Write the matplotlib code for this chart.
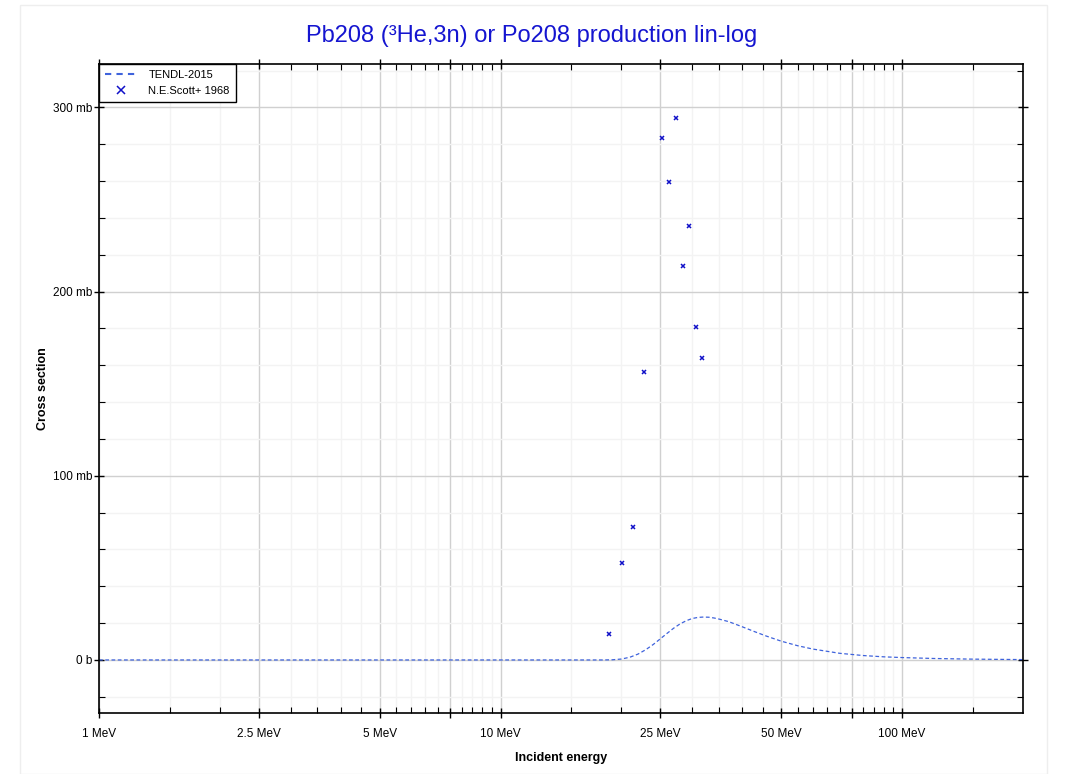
import matplotlib
matplotlib.use("Agg")
import matplotlib.pyplot as plt
from matplotlib.ticker import FixedLocator, FuncFormatter
from matplotlib.patches import Rectangle
from matplotlib.lines import Line2D

plt.rcParams['font.family'] = ['Liberation Sans', 'DejaVu Sans']

# TENDL-2015 evaluation (MeV, mb)
tendl_e = [1, 18, 19, 20, 21, 22, 23, 24, 25, 26, 27, 28, 29, 30, 31, 32, 33, 34, 35,
           37, 40, 43, 46, 50, 55, 60, 70, 80, 90, 100, 120, 150, 200]
tendl_xs = [0, 0, 0.1, 0.5, 1.5, 3.2, 5.6, 8.4, 11.5, 14.5, 17.3, 19.6, 21.3, 22.5, 23.1,
            23.3, 23.2, 22.8, 22.2, 20.8, 18.0, 15.3, 12.9, 10.2, 7.7, 5.9, 3.6, 2.4, 1.7,
            1.3, 0.8, 0.45, 0.2]

# N.E.Scott+ 1968 measurements (MeV, mb)
scott_e = [18.6, 20.1, 21.4, 22.7, 25.2, 26.3, 27.4, 28.5, 29.5, 30.6, 31.7]
scott_xs = [14.1, 52.6, 72.1, 156.5, 283.5, 259.6, 294.4, 214.0, 235.5, 181.0, 164.0]

x_major = [1, 2.5, 5, 7.5, 10, 25, 50, 75, 100]
x_labels = {1: "1 MeV", 2.5: "2.5 MeV", 5: "5 MeV", 10: "10 MeV",
            25: "25 MeV", 50: "50 MeV", 100: "100 MeV"}
x_minor = [1.5, 2, 3, 3.5, 4, 4.5, 5.5, 6, 6.5, 7, 8, 8.5, 9, 9.5,
           15, 20, 30, 35, 40, 45, 55, 60, 65, 70, 80, 85, 90, 95, 150]
y_major = [0, 100, 200, 300]
y_labels = ["0 b", "100 mb", "200 mb", "300 mb"]

fig = plt.figure(figsize=(10.71, 7.74), dpi=100)
fig.patches.append(Rectangle((20/1071, 0), (1047-20)/1071, (774-5)/774,
                             transform=fig.transFigure, fill=False,
                             edgecolor='#eeeeee', lw=1))
ax = fig.add_axes([99/1071, 61/774, (1023-99)/1071, (713-64)/774])

line_col = '#3f63dc'
pt_col = '#1010c8'
ax.plot(tendl_e, tendl_xs, ls='--', color=line_col, lw=0.9, dashes=(3, 2))
ax.plot(scott_e, scott_xs, ls='none', marker='x', ms=3.5, mew=1.1, color=pt_col)

ax.set_xscale('log')
ax.set_xlim(1, 200)
ax.set_ylim(-28.8, 323.6)

ax.xaxis.set_major_locator(FixedLocator(x_major))
ax.xaxis.set_minor_locator(FixedLocator(x_minor))
ax.xaxis.set_major_formatter(FuncFormatter(lambda v, p: x_labels.get(round(v, 1), "")))
ax.xaxis.set_minor_formatter(FuncFormatter(lambda v, p: ""))
ax.yaxis.set_major_locator(FixedLocator(y_major))
ax.yaxis.set_minor_locator(FixedLocator([-20, 20, 40, 60, 80, 120, 140, 160, 180,
                                         220, 240, 260, 280, 320]))
ax.set_yticklabels(y_labels)

ax.tick_params(which='major', direction='inout', length=7, width=1, labelsize=8.5,
               top=True, right=True, color='black')
ax.tick_params(which='minor', direction='in', length=4, width=0.8, top=True, right=True)
ax.tick_params(axis='x', which='major', pad=7)
ax.tick_params(axis='y', which='major', pad=1)

ax.grid(True, which='major', color='#d0d0d0', lw=1)
ax.grid(True, which='minor', color='#f3f3f3', lw=1)
ax.set_axisbelow(True)
for s in ax.spines.values():
    s.set_linewidth(1.2)

ax.set_xlabel("Incident energy", fontsize=9, fontweight='bold', labelpad=9)
ax.set_ylabel("Cross section", fontsize=9, fontweight='bold', labelpad=3)
fig.text(532/1071, 1 - 36/774, "Pb208 (³He,3n) or Po208 production lin-log",
         color='#1515d0', fontsize=17, ha='center', va='center')

handles = [Line2D([], [], ls='--', color=line_col, lw=1.5, dashes=(3, 2.5)),
           Line2D([], [], ls='none', marker='x', ms=6, mew=1.1, color=pt_col)]
leg = ax.legend(handles, ['TENDL-2015', 'N.E.Scott+ 1968'], loc='upper left',
                borderaxespad=0, fontsize=8, fancybox=False,
                edgecolor='black', framealpha=1, handlelength=2.8,
                borderpad=0.55, labelspacing=0.55, handletextpad=1.1)
leg.get_frame().set_linewidth(1)

fig.savefig("out.png", dpi=100)
